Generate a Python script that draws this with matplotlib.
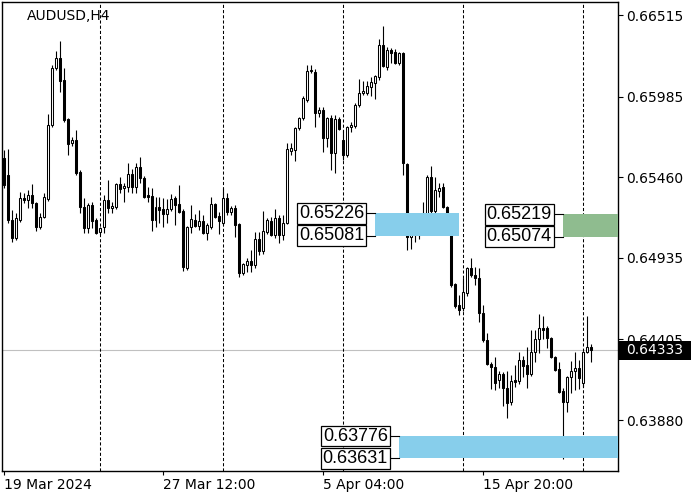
import matplotlib
matplotlib.use("Agg")
import matplotlib.pyplot as plt
from matplotlib.patches import Rectangle
from matplotlib.transforms import blended_transform_factory

# AUDUSD H4 candles
opens = [0.65586, 0.65475, 0.65183, 0.65066, 0.65183, 0.65326, 0.65313, 0.65345, 0.65293, 0.65137,
         0.65202, 0.65319, 0.65800, 0.66171, 0.66236, 0.66093, 0.65839, 0.65683, 0.65703, 0.65495,
         0.65267, 0.65131, 0.65280, 0.65183, 0.65105, 0.65137, 0.65313, 0.65261, 0.65267, 0.65417,
         0.65391, 0.65397, 0.65482, 0.65397, 0.65527, 0.65456, 0.65345, 0.65339, 0.65183, 0.65267,
         0.65254, 0.65222, 0.65254, 0.65326, 0.65287, 0.65241, 0.64871, 0.65137, 0.65183, 0.65144,
         0.65176, 0.65098, 0.65137, 0.65287, 0.65209, 0.65163, 0.65326, 0.65235, 0.65261, 0.65157,
         0.64839, 0.64891, 0.64917, 0.64891, 0.65060, 0.64982, 0.65105, 0.65176, 0.65086, 0.65196,
         0.65086, 0.65163, 0.65632, 0.65638, 0.65781, 0.65846, 0.65963, 0.66151, 0.66145, 0.65878,
         0.65898, 0.65716, 0.65846, 0.65618, 0.65839, 0.65703, 0.65605, 0.65787, 0.65794, 0.65930,
         0.66008, 0.66008, 0.66047, 0.66073, 0.66112, 0.66320, 0.66177, 0.66288, 0.66275, 0.66203,
         0.66268, 0.65547, 0.65073, 0.65098, 0.65086, 0.65189, 0.65222, 0.65462, 0.65241, 0.65371,
         0.65397, 0.65267, 0.65144, 0.64767, 0.64630, 0.64611, 0.64708, 0.64871, 0.64826, 0.64806,
         0.64578, 0.64403, 0.64247, 0.64227, 0.64143, 0.64182, 0.64091, 0.64000, 0.64143, 0.64136,
         0.64273, 0.64240, 0.64182, 0.64325, 0.64409, 0.64481, 0.64481, 0.64416, 0.64292, 0.64214,
         0.64071, 0.64000, 0.64162, 0.64201, 0.64221, 0.64123, 0.64325, 0.64357]
highs = [0.65638, 0.65644, 0.65248, 0.65228, 0.65365, 0.65358, 0.65378, 0.65417, 0.65300, 0.65228,
         0.65358, 0.65872, 0.66190, 0.66281, 0.66346, 0.66171, 0.65846, 0.65722, 0.65768, 0.65508,
         0.65326, 0.65293, 0.65300, 0.65196, 0.65137, 0.65345, 0.65443, 0.65300, 0.65424, 0.65462,
         0.65424, 0.65553, 0.65514, 0.65553, 0.65592, 0.65469, 0.65397, 0.65391, 0.65332, 0.65332,
         0.65326, 0.65319, 0.65352, 0.65339, 0.65410, 0.65254, 0.65144, 0.65280, 0.65222, 0.65248,
         0.65215, 0.65163, 0.65332, 0.65293, 0.65235, 0.65391, 0.65358, 0.65274, 0.65280, 0.65163,
         0.64904, 0.64936, 0.64988, 0.65105, 0.65105, 0.65241, 0.65196, 0.65202, 0.65254, 0.65215,
         0.65215, 0.65683, 0.65683, 0.65787, 0.65852, 0.65989, 0.66190, 0.66190, 0.66164, 0.65917,
         0.65917, 0.65852, 0.65865, 0.65865, 0.65852, 0.65768, 0.65794, 0.65820, 0.65943, 0.66099,
         0.66086, 0.66086, 0.66112, 0.66125, 0.66359, 0.66444, 0.66307, 0.66301, 0.66294, 0.66275,
         0.66275, 0.65553, 0.65163, 0.65163, 0.65228, 0.65300, 0.65475, 0.65534, 0.65462, 0.65424,
         0.65424, 0.65274, 0.65150, 0.64773, 0.64695, 0.64806, 0.64877, 0.64936, 0.64877, 0.64871,
         0.64630, 0.64448, 0.64260, 0.64292, 0.64201, 0.64195, 0.64201, 0.64175, 0.64240, 0.64325,
         0.64299, 0.64357, 0.64468, 0.64468, 0.64572, 0.64559, 0.64494, 0.64422, 0.64299, 0.64260,
         0.64091, 0.64169, 0.64266, 0.64325, 0.64273, 0.64331, 0.64559, 0.64377]
lows = [0.65391, 0.65163, 0.65040, 0.65053, 0.65170, 0.65293, 0.65261, 0.65261, 0.65111, 0.65124,
        0.65196, 0.65306, 0.65787, 0.66158, 0.66015, 0.65820, 0.65605, 0.65664, 0.65475, 0.65228,
        0.65098, 0.65098, 0.65131, 0.65092, 0.65092, 0.65098, 0.65228, 0.65228, 0.65254, 0.65358,
        0.65300, 0.65365, 0.65358, 0.65358, 0.65424, 0.65326, 0.65300, 0.65111, 0.65137, 0.65163,
        0.65137, 0.65163, 0.65241, 0.65150, 0.65228, 0.64851, 0.64858, 0.65098, 0.65137, 0.65118,
        0.65092, 0.65053, 0.65124, 0.65196, 0.65092, 0.65150, 0.65215, 0.65215, 0.65073, 0.64813,
        0.64826, 0.64845, 0.64845, 0.64871, 0.64956, 0.64962, 0.65092, 0.65079, 0.65066, 0.65034,
        0.65053, 0.65157, 0.65605, 0.65566, 0.65768, 0.65833, 0.65950, 0.66138, 0.65787, 0.65852,
        0.65625, 0.65657, 0.65508, 0.65488, 0.65768, 0.65573, 0.65592, 0.65755, 0.65781, 0.65917,
        0.65995, 0.65995, 0.65989, 0.65969, 0.66093, 0.66177, 0.66158, 0.66203, 0.66197, 0.66190,
        0.65475, 0.64988, 0.64994, 0.65040, 0.65060, 0.65150, 0.65202, 0.65215, 0.65215, 0.65332,
        0.65261, 0.65092, 0.64747, 0.64611, 0.64565, 0.64591, 0.64689, 0.64813, 0.64760, 0.64520,
        0.64390, 0.64240, 0.64084, 0.64078, 0.64091, 0.63974, 0.63896, 0.63980, 0.64097, 0.64117,
        0.64162, 0.64091, 0.64169, 0.64260, 0.64318, 0.64409, 0.64351, 0.64286, 0.64201, 0.64058,
        0.63629, 0.63935, 0.64058, 0.64078, 0.64084, 0.64097, 0.64318, 0.64260]
closes = [0.65410, 0.65183, 0.65066, 0.65196, 0.65326, 0.65313, 0.65345, 0.65293, 0.65137, 0.65202,
          0.65332, 0.65800, 0.66171, 0.66236, 0.66086, 0.65833, 0.65677, 0.65703, 0.65488, 0.65267,
          0.65131, 0.65280, 0.65176, 0.65098, 0.65131, 0.65313, 0.65261, 0.65274, 0.65417, 0.65384,
          0.65404, 0.65482, 0.65397, 0.65527, 0.65456, 0.65332, 0.65332, 0.65183, 0.65267, 0.65248,
          0.65222, 0.65254, 0.65319, 0.65280, 0.65235, 0.64877, 0.65137, 0.65189, 0.65144, 0.65176,
          0.65098, 0.65150, 0.65287, 0.65202, 0.65176, 0.65326, 0.65235, 0.65261, 0.65150, 0.64839,
          0.64897, 0.64917, 0.64891, 0.65060, 0.64982, 0.65111, 0.65183, 0.65086, 0.65196, 0.65086,
          0.65163, 0.65644, 0.65651, 0.65781, 0.65846, 0.65976, 0.66151, 0.66158, 0.65878, 0.65898,
          0.65716, 0.65846, 0.65618, 0.65839, 0.65774, 0.65605, 0.65787, 0.65800, 0.65930, 0.66008,
          0.66021, 0.66054, 0.66080, 0.66119, 0.66320, 0.66184, 0.66288, 0.66268, 0.66203, 0.66268,
          0.65553, 0.65073, 0.65098, 0.65086, 0.65189, 0.65222, 0.65462, 0.65241, 0.65378, 0.65391,
          0.65267, 0.65137, 0.64760, 0.64624, 0.64598, 0.64715, 0.64871, 0.64826, 0.64806, 0.64578,
          0.64403, 0.64247, 0.64227, 0.64123, 0.64182, 0.64091, 0.63993, 0.64136, 0.64130, 0.64273,
          0.64234, 0.64182, 0.64325, 0.64409, 0.64481, 0.64468, 0.64416, 0.64292, 0.64208, 0.64065,
          0.64000, 0.64162, 0.64201, 0.64221, 0.64156, 0.64325, 0.64357, 0.64333]

last_price = 0.64333
price_ticks = [0.66515, 0.65985, 0.65460, 0.64935, 0.64405, 0.63880]
time_ticks = [0, 40, 80, 120]
time_labels = ["19 Mar 2024", "27 Mar 12:00", "5 Apr 04:00", "15 Apr 20:00"]
separators = [24, 55, 85, 115, 145]

# zones: price band, bar span, label box placement, colour
zone_tops = [0.65226, 0.65219, 0.63776]
zone_bottoms = [0.65081, 0.65074, 0.63631]
zone_start = [92.9, 140.0, 99.0]
zone_end = [113.9, 160.0, 160.0]
label_center = [82.1, 129.0, 88.0]
label_right = [90.6, 137.5, 96.5]
zone_colors = ["#87ceeb", "#8fbc8f", "#87ceeb"]

fig = plt.figure(figsize=(7, 5), dpi=100)
ax = fig.add_axes([2 / 700, 29 / 500, 616 / 700, 469 / 500])
ax.set_xlim(-0.4, 153.7)
ax.set_ylim(0.63549, 0.66600)

ax.axhline(last_price, color="#c0c0c0", lw=0.8, zorder=0)
for s in separators:
    ax.axvline(s, color="black", lw=0.75, ls=(0, (3, 2)), zorder=1)

x = list(range(len(opens)))
ax.vlines(x, lows, highs, color="black", lw=0.8, zorder=2)
for i in x:
    o, c = opens[i], closes[i]
    fc = "white" if c > o else "black"
    ax.bar(i, abs(c - o), bottom=min(o, c), width=0.5, color=fc,
           edgecolor="black", linewidth=0.75, zorder=3)

for k in range(len(zone_tops)):
    top, bot = zone_tops[k], zone_bottoms[k]
    ax.add_patch(Rectangle((zone_start[k], bot), zone_end[k] - zone_start[k], top - bot,
                           facecolor=zone_colors[k], edgecolor="none", zorder=4))
    for p in (top, bot):
        ax.plot([label_right[k], zone_start[k]], [p, p], color="black", lw=0.8, zorder=4)
        ax.text(label_center[k], p, f"{p:.5f}", ha="center", va="center",
                fontsize=13, family="Liberation Sans", zorder=6,
                bbox=dict(boxstyle="square,pad=0.1", fc="white", ec="black", lw=0.9))

ax.text(0.0406, 0.9606, "AUDUSD,H4", transform=ax.transAxes, fontsize=10,
        va="baseline", ha="left")

ax.yaxis.tick_right()
ax.set_yticks(price_ticks)
ax.set_yticklabels([f"{p:.5f}" for p in price_ticks])
ax.set_xticks(time_ticks)
ax.set_xticklabels(time_labels, ha="left")
ax.tick_params(axis="y", direction="out", length=3.6, width=0.8, pad=2, labelsize=10)
ax.tick_params(axis="x", direction="out", length=3, width=0.8, pad=2, labelsize=10)
for sp in ax.spines.values():
    sp.set_linewidth(1.0)

# current price tag on the right scale
tr = blended_transform_factory(ax.transAxes, ax.transData)
ax.add_patch(Rectangle((1.0021, last_price - 0.000605), 0.1159, 0.00121,
                       transform=tr, facecolor="black", edgecolor="none",
                       clip_on=False, zorder=10))
ax.text(1.0128, last_price, f"{last_price:.5f}", transform=tr, color="white",
        fontsize=10, va="center", ha="left", zorder=11, clip_on=False)

fig.savefig("out.png", dpi=100)
